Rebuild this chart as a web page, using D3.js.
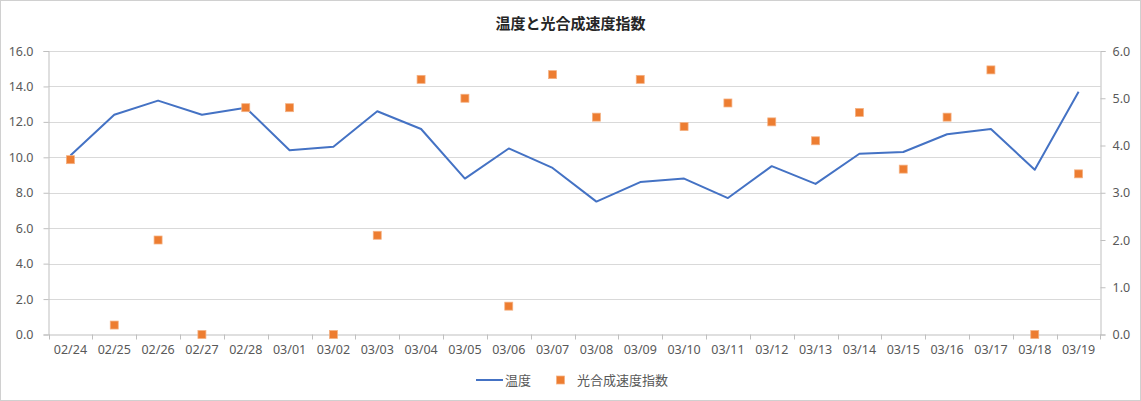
<!DOCTYPE html>
<html><head><meta charset="utf-8">
<script src="https://cdn.jsdelivr.net/npm/d3@7"></script>
<style>
body{margin:0;background:#fff;}
text{font-family:"Noto Sans","Noto Sans CJK JP",sans-serif;}
</style></head>
<body>
<svg id="c" width="1141" height="401"></svg>
<script>
const categories = ["02/24","02/25","02/26","02/27","02/28","03/01","03/02","03/03","03/04","03/05","03/06","03/07","03/08","03/09","03/10","03/11","03/12","03/13","03/14","03/15","03/16","03/17","03/18","03/19"];
const temperature = [10.1,12.4,13.2,12.4,12.8,10.4,10.6,12.6,11.6,8.8,10.5,9.4,7.5,8.6,8.8,7.7,9.5,8.5,10.2,10.3,11.3,11.6,9.3,13.7];
const photoIndex = [3.7,0.2,2.0,0.0,4.8,4.8,0.0,2.1,5.4,5.0,0.6,5.5,4.6,5.4,4.4,4.9,4.5,4.1,4.7,3.5,4.6,5.6,0.0,3.4];
const leftTicks = [0,2,4,6,8,10,12,14,16];
const rightTicks = [0,1,2,3,4,5,6];
const title = "温度と光合成速度指数";
const seriesNames = ["温度","光合成速度指数"];

const svg = d3.select("#c");
const W = 1141, H = 401;
const m = {left:48.5, right:1100.5, top:51, bottom:334.5};

svg.append("rect").attr("x",0.5).attr("y",0.5).attr("width",W-1).attr("height",H-1)
  .attr("fill","#fff").attr("stroke","#d0d0d0");

const x = d3.scaleBand().domain(categories).range([m.left, m.right]).padding(0);
const yL = d3.scaleLinear().domain([0,16]).range([m.bottom, m.top]);
const yR = d3.scaleLinear().domain([0,6]).range([m.bottom, m.top]);

// gridlines
svg.append("g").selectAll("line").data(leftTicks.slice(1)).join("line")
  .attr("x1",m.left).attr("x2",m.right)
  .attr("y1",d=>Math.round(yL(d))+0.5).attr("y2",d=>Math.round(yL(d))+0.5)
  .attr("stroke","#d9d9d9").attr("stroke-width",1);

// left axis
const gL = svg.append("g").attr("transform",`translate(${m.left},0)`)
  .call(d3.axisLeft(yL).tickValues(leftTicks).tickFormat(d3.format(".1f")).tickSize(5).tickPadding(10));
gL.select(".domain").attr("stroke","#bfbfbf");
gL.selectAll("line").attr("stroke","#bfbfbf");
gL.selectAll("text").attr("fill","#595959").style("font-size","12.5px");

// right axis
const gR = svg.append("g").attr("transform",`translate(${m.right},0)`)
  .call(d3.axisRight(yR).tickValues(rightTicks).tickFormat(d3.format(".1f")).tickSize(5).tickPadding(7));
gR.select(".domain").attr("stroke","#bfbfbf");
gR.selectAll("line").attr("stroke","#bfbfbf");
gR.selectAll("text").attr("fill","#595959").style("font-size","12.5px");

// bottom axis
const gB = svg.append("g").attr("transform",`translate(0,${m.bottom})`)
  .call(d3.axisBottom(x).tickSize(0).tickPadding(11));
gB.select(".domain").attr("stroke","#bfbfbf");
gB.selectAll("text").attr("fill","#595959").style("font-size","12.5px");
// boundary tick marks
svg.append("g").selectAll("line").data(categories.concat(["__end"])).join("line")
  .attr("x1",(d,i)=> i<categories.length ? Math.round(x(d))+0.5 : m.right)
  .attr("x2",(d,i)=> i<categories.length ? Math.round(x(d))+0.5 : m.right)
  .attr("y1",m.bottom).attr("y2",m.bottom+5).attr("stroke","#bfbfbf");

// temperature line
const line = d3.line().x((d,i)=>x(categories[i])+x.bandwidth()/2).y(d=>yL(d));
svg.append("path").datum(temperature).attr("d",line)
  .attr("fill","none").attr("stroke","#4472C4").attr("stroke-width",2).attr("stroke-linejoin","round");

// markers
const ms = 8;
svg.append("g").selectAll("rect").data(photoIndex).join("rect")
  .attr("x",(d,i)=>x(categories[i])+x.bandwidth()/2-ms/2)
  .attr("y",d=>yR(d)-ms/2)
  .attr("width",ms).attr("height",ms)
  .attr("fill","#ED7D31").attr("stroke","#f4b183").attr("stroke-width",0.75);

// title
svg.append("text").attr("x",W/2).attr("y",29).attr("text-anchor","middle")
  .style("font-size","15px").style("font-weight","bold").attr("fill","#262626").text(title);

// legend
const lg = svg.append("g");
lg.append("line").attr("x1",476).attr("x2",503).attr("y1",380).attr("y2",380)
  .attr("stroke","#4472C4").attr("stroke-width",2);
lg.append("text").attr("x",505).attr("y",385).style("font-size","13px").attr("fill","#595959").text(seriesNames[0]);
lg.append("rect").attr("x",560.5-ms/2).attr("y",380-ms/2).attr("width",ms).attr("height",ms)
  .attr("fill","#ED7D31").attr("stroke","#f4b183").attr("stroke-width",0.75);
lg.append("text").attr("x",577).attr("y",385).style("font-size","13px").attr("fill","#595959").text(seriesNames[1]);
</script>
</body></html>
